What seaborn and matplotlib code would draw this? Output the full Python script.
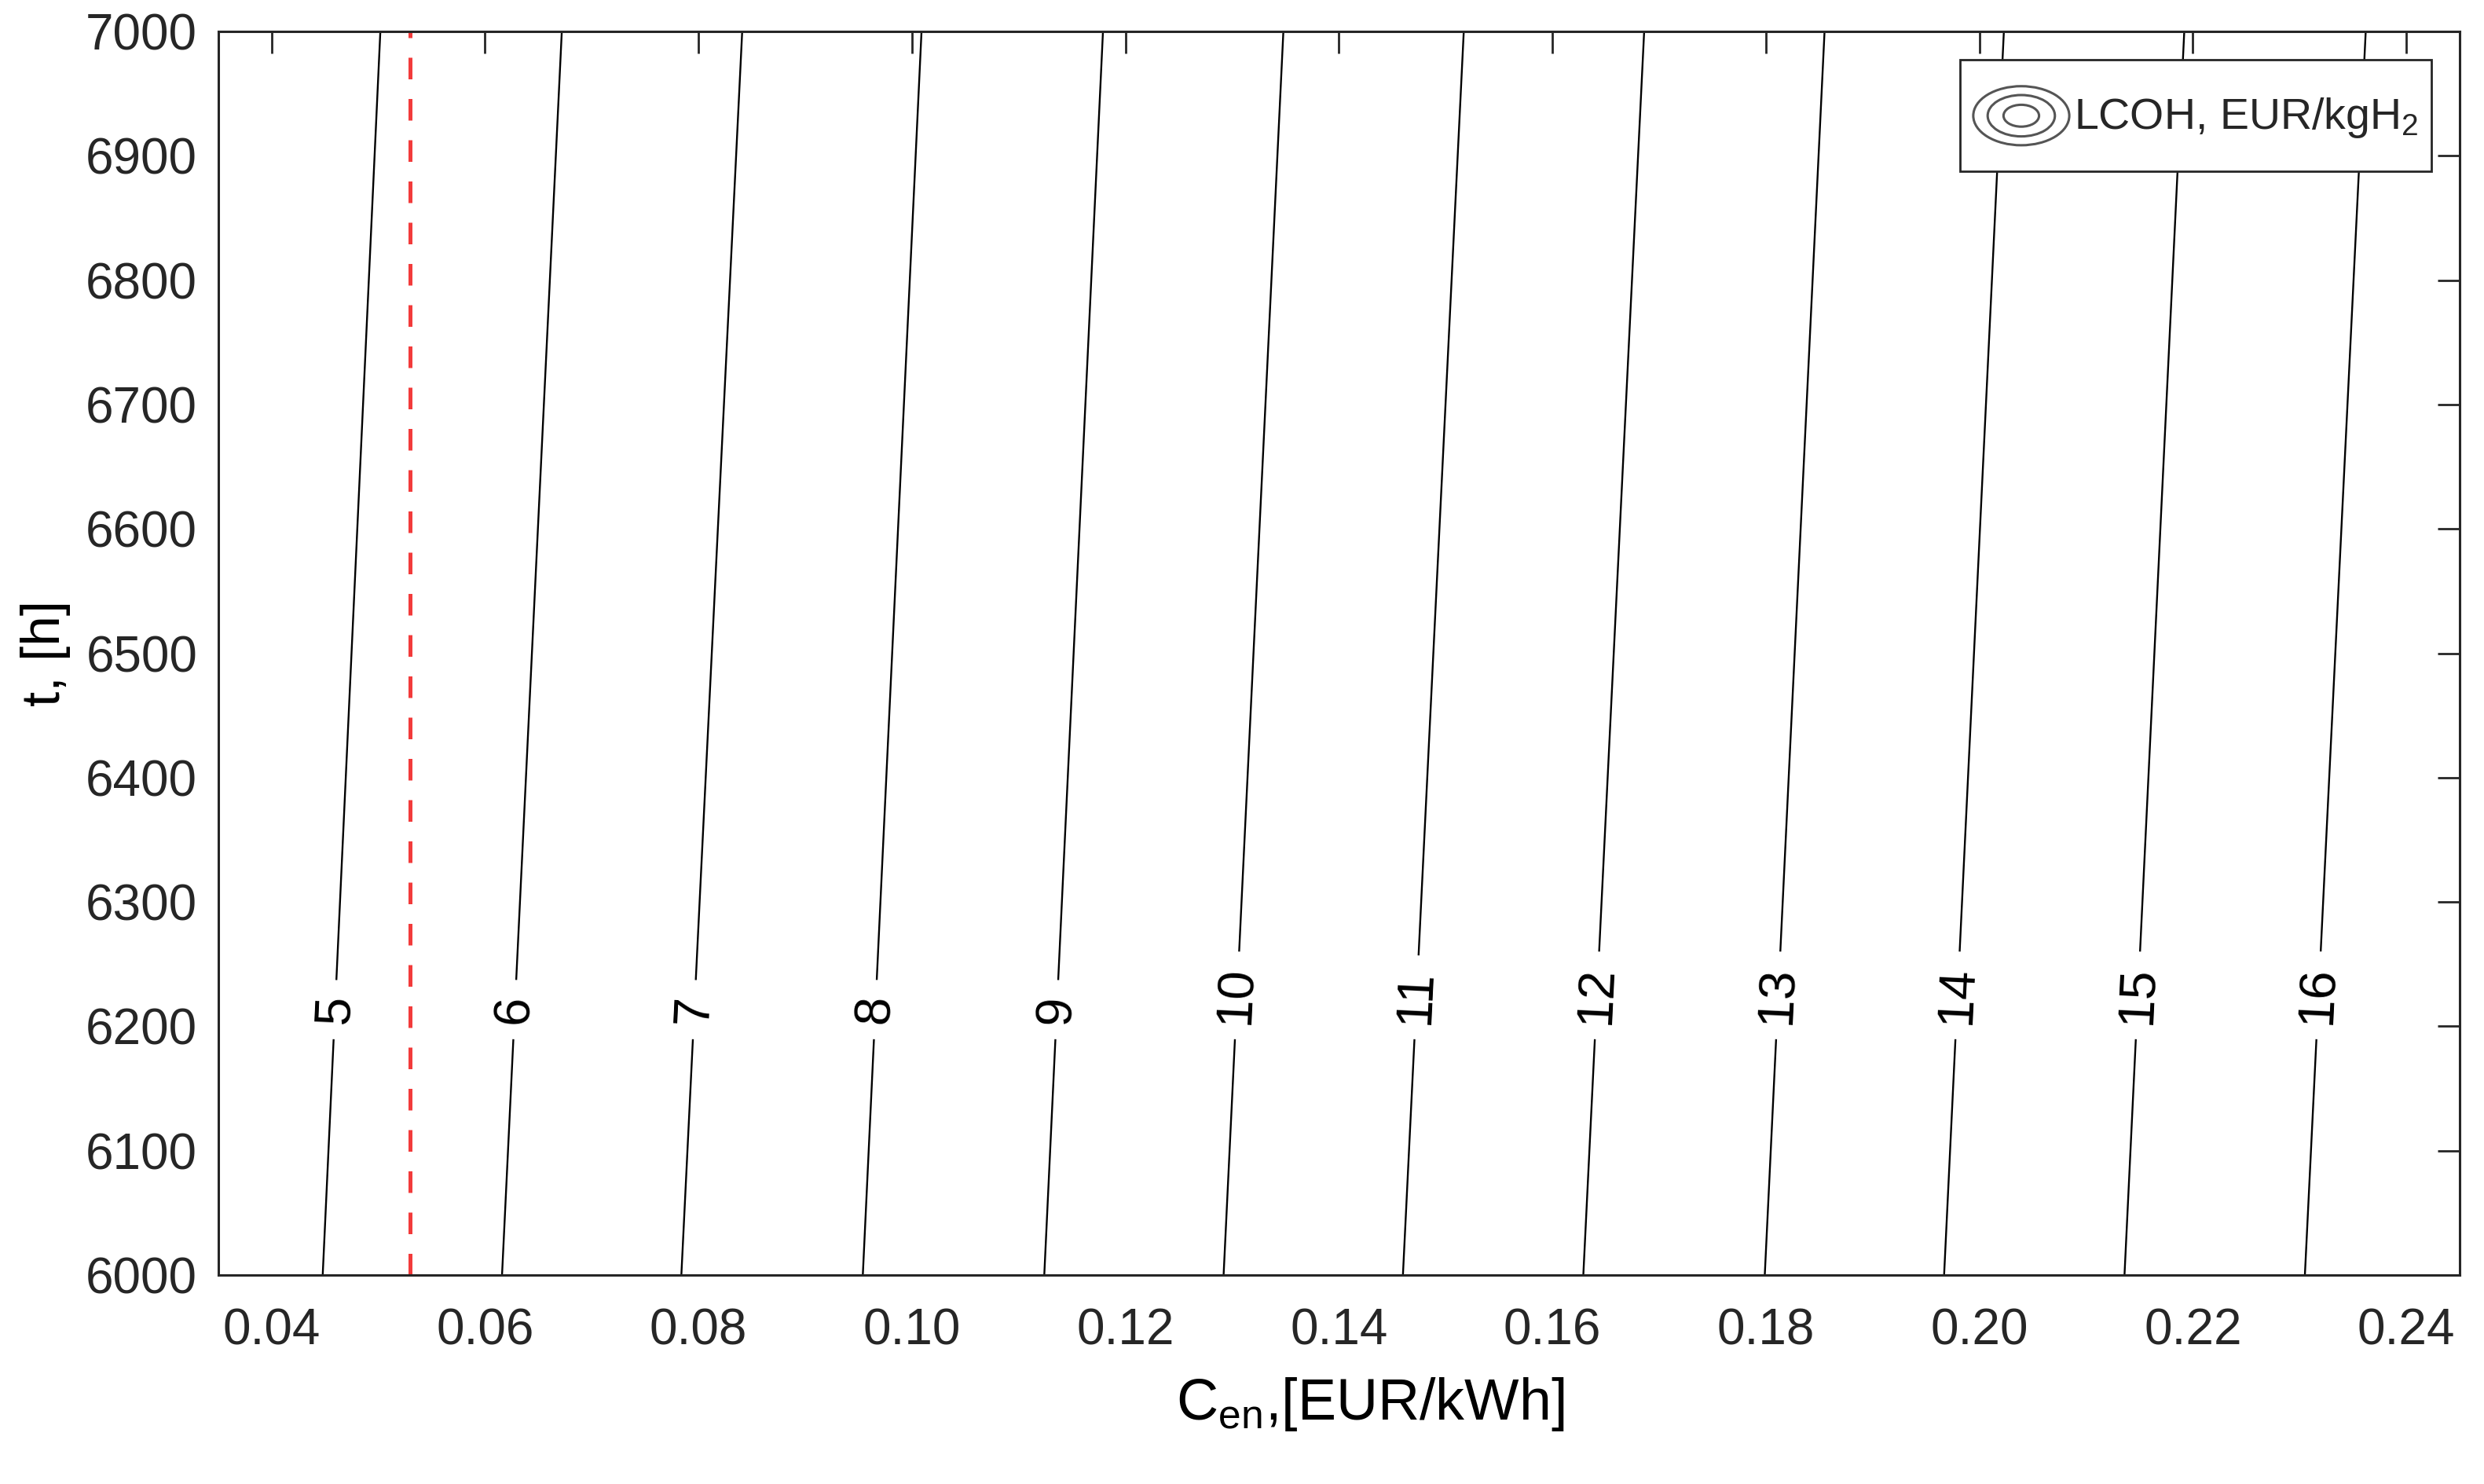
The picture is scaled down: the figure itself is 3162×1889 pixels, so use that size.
import matplotlib
matplotlib.use("Agg")

import matplotlib.pyplot as plt
import numpy as np
import pandas as pd
import seaborn as sns
from matplotlib.legend_handler import HandlerBase
from matplotlib.lines import Line2D
from matplotlib.patches import Ellipse

# LCOH iso-lines (EUR/kgH2), read at the bottom (t = 6000 h) and top (t = 7000 h) of the plot
LCOH_LEVELS = [5, 6, 7, 8, 9, 10, 11, 12, 13, 14, 15, 16]
C_EN_AT_T_LOW = [0.0448, 0.0616, 0.0784, 0.0954, 0.1124, 0.1292,
                 0.1460, 0.1629, 0.1799, 0.1967, 0.2136, 0.2305]
C_EN_AT_T_HIGH = [0.0502, 0.0672, 0.0841, 0.1009, 0.1179, 0.1348,
                  0.1517, 0.1686, 0.1855, 0.2023, 0.2192, 0.2362]
T_LOW = 6000
T_HIGH = 7000

# reference electricity price (red dashed line)
C_EN_REFERENCE = 0.053

X_TICKS = [0.04, 0.06, 0.08, 0.10, 0.12, 0.14, 0.16, 0.18, 0.20, 0.22, 0.24]
Y_TICKS = [6000, 6100, 6200, 6300, 6400, 6500, 6600, 6700, 6800, 6900, 7000]
X_LIMITS = (0.035, 0.245)
Y_LIMITS = (6000, 7000)

LABEL_T = 6202  # where the inline level labels sit
AXIS_COLOR = "#262626"


class ContourIconHandler(HandlerBase):
    # MATLAB-style legend icon: three concentric ellipses
    def create_artists(self, legend, orig_handle, xdescent, ydescent,
                       width, height, fontsize, trans):
        cx = -xdescent + width / 2
        cy = -ydescent + height / 2
        artists = []
        for frac in (1.0, 0.7, 0.37):
            artists.append(Ellipse((cx, cy), width * frac, height * 0.69 * frac,
                                   fill=False, ec="#555555", lw=1.1, transform=trans))
        return artists


def build_lines() -> pd.DataFrame:
    rows = []
    for level, c_lo, c_hi in zip(LCOH_LEVELS, C_EN_AT_T_LOW, C_EN_AT_T_HIGH):
        rows.append({"level": level, "c_en": c_lo, "t": T_LOW})
        rows.append({"level": level, "c_en": c_hi, "t": T_HIGH})
    return pd.DataFrame(rows)


def main():
    sns.set_theme(style="white")
    plt.rcParams["font.family"] = ["Liberation Sans", "DejaVu Sans"]
    plt.rcParams["mathtext.fontset"] = "custom"
    plt.rcParams["mathtext.rm"] = "Liberation Sans"
    plt.rcParams["mathtext.it"] = "Liberation Sans"

    fig, ax = plt.subplots(figsize=(15.81, 9.445), dpi=200)
    fig.subplots_adjust(left=0.0878, right=0.9902, bottom=0.1408, top=0.9788)

    df = build_lines()
    sns.lineplot(data=df, x="c_en", y="t", units="level", estimator=None, sort=False,
                 color="black", lw=0.85, ax=ax, legend=False)

    ax.axvline(C_EN_REFERENCE, color="#f23b3b", lw=1.8, dashes=(5.5, 5), zorder=2.5)

    ax.set_xlim(*X_LIMITS)
    ax.set_ylim(*Y_LIMITS)
    ax.set_xticks(X_TICKS)
    ax.set_xticklabels([f"{v:.2f}" for v in X_TICKS])
    ax.set_yticks(Y_TICKS)
    ax.set_yticklabels([str(v) for v in Y_TICKS])

    ax.tick_params(direction="in", length=10, width=1.0, top=True, right=True,
                   color=AXIS_COLOR, labelcolor=AXIS_COLOR, labelsize=23)
    ax.tick_params(axis="x", pad=15)
    ax.tick_params(axis="y", pad=9.5)
    for spine in ax.spines.values():
        spine.set_color(AXIS_COLOR)
        spine.set_linewidth(1.1)

    ax.set_xlabel(r"C$_{\mathrm{en}}$,[EUR/kWh]", fontsize=26.5, color="black")
    ax.xaxis.set_label_coords(0.514, -0.081)
    ax.set_ylabel("t, [h]", fontsize=25, color="black", labelpad=7)

    # inline contour labels, rotated along each line, with a white gap behind them
    frac = (LABEL_T - T_LOW) / (T_HIGH - T_LOW)
    for level, c_lo, c_hi in zip(LCOH_LEVELS, C_EN_AT_T_LOW, C_EN_AT_T_HIGH):
        p0 = ax.transData.transform((c_lo, T_LOW))
        p1 = ax.transData.transform((c_hi, T_HIGH))
        angle = np.degrees(np.arctan2(p1[1] - p0[1], p1[0] - p0[0]))
        cx = c_lo + (c_hi - c_lo) * frac
        ax.text(cx, LABEL_T, str(level), rotation=angle, rotation_mode="anchor",
                ha="left", va="center", fontsize=23.5, color="black", zorder=3,
                bbox=dict(boxstyle="square,pad=0.3", fc="white", ec="none"))

    proxy = Line2D([], [])
    leg = ax.legend(handles=[proxy], labels=[r"LCOH, EUR/kgH$_2$"],
                    handler_map={proxy: ContourIconHandler()},
                    loc="upper right", fontsize=20, frameon=True, fancybox=False,
                    framealpha=1.0, borderpad=0.3, borderaxespad=0.65,
                    handlelength=2.2, handleheight=2.64, handletextpad=0.1)
    leg.get_frame().set_edgecolor(AXIS_COLOR)
    leg.get_frame().set_linewidth(1.0)

    fig.savefig("out.png", dpi=200, facecolor="white")
    plt.close(fig)


if __name__ == "__main__":
    main()
